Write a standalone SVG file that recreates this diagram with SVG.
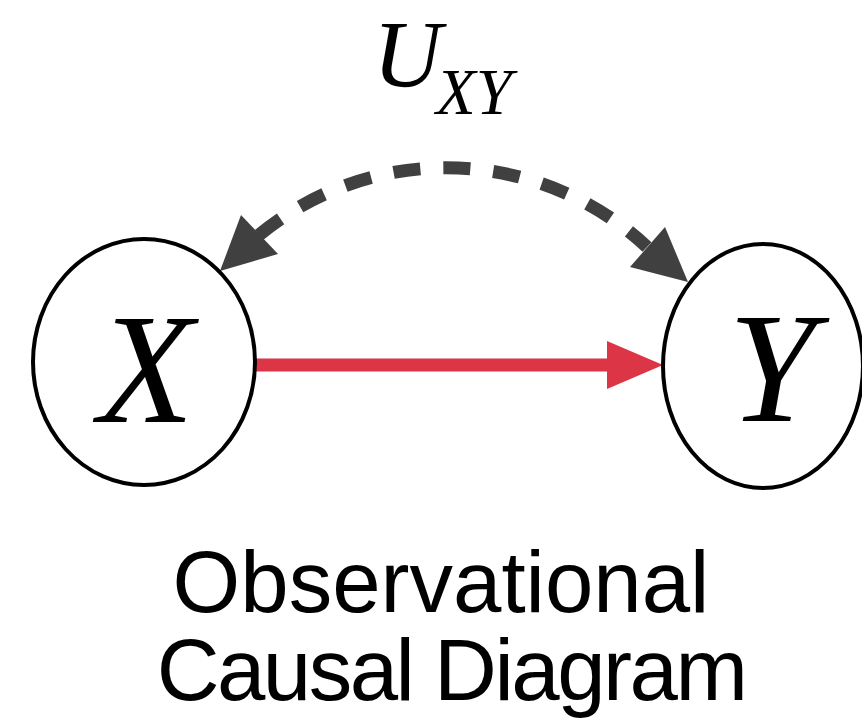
<svg xmlns="http://www.w3.org/2000/svg" width="862" height="724" viewBox="0 0 862 724">
<style>
.node{fill:#fff;stroke:#000;stroke-width:4}
.var{font-family:"Liberation Serif","Times New Roman",serif;font-style:italic;fill:#000}
.cap{font-family:"Liberation Sans",Arial,sans-serif;font-size:87px;fill:#000;text-anchor:middle}
.dash{fill:none;stroke:#404040;stroke-width:13;stroke-dasharray:27 23}
.head{fill:#404040}
</style>
<rect width="862" height="724" fill="#fff"/>
<g id="label-U">
<text class="var" x="373" y="87" font-size="95">U</text>
<text class="var" x="436" y="114" font-size="65">XY</text>
</g>
<g id="connectors">
<path class="dash" d="M259,235 A294,294 0 0 1 647,247"/>
<polygon class="head" points="220,271 241,215 278,254"/>
<polygon class="head" points="688,282 665,227 630,267"/>
<line x1="255" y1="365" x2="612" y2="365" stroke="#dc3545" stroke-width="13"/>
<polygon points="663,365 607,341 607,389" fill="#dc3545"/>
</g>
<g id="node-X">
<ellipse class="node" cx="144" cy="362" rx="111" ry="123"/>
<text class="var" x="146" y="422" font-size="157" text-anchor="middle">X</text>
</g>
<g id="node-Y">
<ellipse class="node" cx="763" cy="366" rx="100" ry="122"/>
<text class="var" x="772" y="421" font-size="157" text-anchor="middle">Y</text>
</g>
<g id="caption">
<text class="cap" x="441" y="612">Observational</text>
<text class="cap" x="451" y="700" letter-spacing="-2.5">Causal Diagram</text>
</g>
</svg>
